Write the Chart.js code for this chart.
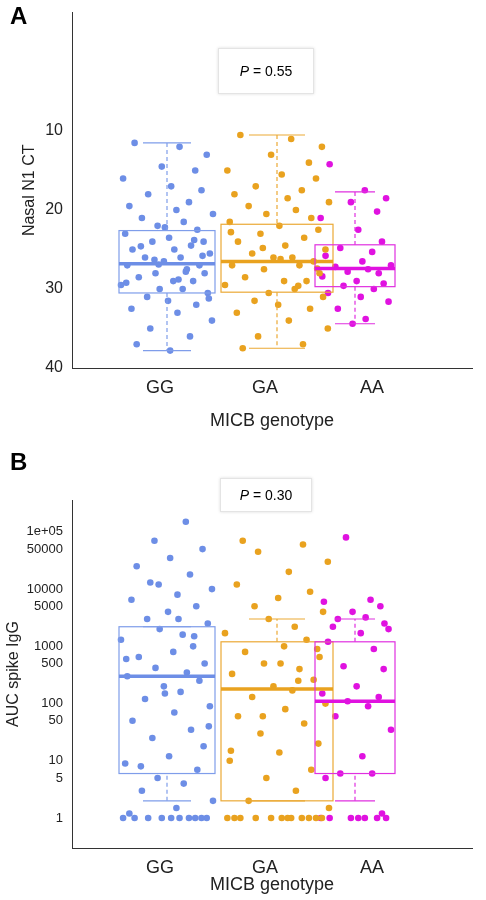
<!DOCTYPE html>
<html><head><meta charset="utf-8">
<script src="https://cdn.jsdelivr.net/npm/chart.js@4"></script>
<style>
body{margin:0;background:#fff;font-family:"Liberation Sans",Arial,sans-serif}
.wrap{position:absolute;left:0;width:486px;height:450px}
.lbl{position:absolute;font-weight:bold;font-size:24px;left:10px}
.pbox{position:absolute;background:#fff;border:1px solid #e4e4e4;box-shadow:0 0 3px #ddd;font-size:14px;text-align:center}
</style></head><body>
<div class="wrap" style="top:0"><canvas id="ca" width="486" height="450"></canvas></div>
<div class="wrap" style="top:450px"><canvas id="cb" width="486" height="450"></canvas></div>
<div class="lbl" style="top:2px">A</div>
<div class="lbl" style="top:448px">B</div>
<div class="pbox" style="left:218px;top:48px;width:94px;height:44px;line-height:44px"><i>P</i> = 0.55</div>
<div class="pbox" style="left:220px;top:478px;width:90px;height:32px;line-height:32px"><i>P</i> = 0.30</div>
<script>
const categories=["GG","GA","AA"];
const colors=["#6d8ee6","#e9a21f","#e012e0"];
const boxLine=["#7f9dea","#eba935","#e030e0"];
const catX=[95,205,283];
const labelX=[88,193,300];
const boxHalf=[48,56,40];
const jitHalf=[46,52,36];
const JIT=[-0.31,0.12,0.38,-0.05,0.27,-0.42,0.04,0.33,-0.18,0.21,-0.36,0.09,0.44,-0.24,0.16,-0.09,0.29,-0.4,0.02,0.35,-0.14,0.23,-0.33,0.07,0.41,-0.21,0.13,-0.03,0.31,-0.38,0.19,-0.11,0.36,-0.27,0.06,0.25,-0.44,0.15,-0.07,0.39,-0.19,0.01,0.28,-0.34,0.1,0.43,-0.16,0.22,-0.29,0.03,0.34,-0.12,0.18,-0.39,0.26,-0.02,0.4,-0.25,0.11,-0.08];
// Panel A: Nasal N1 CT
const ctGG=[11.5,12,13,14.5,15,16,17,17.5,18,19,19.5,20,20.5,21,21.5,22,22.5,23,23.5,24,24,24.5,25,25,25.5,26,26,26.5,27,27,27.5,28,28,28.5,29,29,29.5,30,30,30.5,31,31.5,32,32.5,33,34,35,36,37,37.8,25.8,26.3,27.8,29.2,23.8,22.2,31.2,24.6,28.8,26.9];
const ctGA=[10.5,11,12,13,14,15,15.5,16,17,17.5,18,18.5,19,19.5,20,20.5,21,21.5,22,22.5,23,23.5,24,24.5,25,25.5,26,26,26.5,27,27,27.5,28,28.5,29,29,29.5,30,30.5,31,31.5,32,32.5,33,34,35,36,37,37.5,26.2,27.4,24.8,29.6,22.8];
const ctAA=[14.2,17.5,18.5,19,20.2,21,22.5,24,24.8,25.3,25.8,26.5,27,27.2,27.5,27.8,28,28.4,29,29.3,29.6,30,30.5,31,31.6,32.5,33.8,34.4];
// [lowWhisker, Q1, median, Q3, highWhisker]
const ctBoxes=[[11.5,22.6,26.8,30.5,37.8],[10.5,21.8,26.5,30.4,37.5],[17.7,24.4,27.4,29.7,34.4]];
const ctTicks=[10,20,30,40];
// Panel B: AUC spike IgG
const igGG=[1,1,1,1,1,1,1,1,1,1,1.2,1.5,2,3,4,5,7,9,12,18,25,35,50,70,90,120,160,200,250,300,350,420,500,650,800,1000,1300,1600,2000,2500,3000,4000,5000,6500,8000,10000,13000,18000,25000,35000,50000,70000,150000,600,1500,150,40,8,3000,12000];
const igGA=[1,1,1,1,1,1,1,1,1,1,1,1,1.5,2,3,5,7,10,14,20,30,45,60,80,100,130,170,200,260,330,400,500,650,800,1000,1300,1700,2200,3000,4000,5000,7000,9000,12000,20000,30000,45000,60000,70000,500,900,60,250,15];
const igAA=[1,1,1,1,1,1,1,1.2,6,6,5,12,35,60,90,110,130,150,200,400,450,900,1200,1700,2000,3000,3200,4000,5000,6000,6500,80000,2500,2200];
const igBoxes=[[2,6,300,2200,2200],[2,2,180,1200,3000],[2,6,110,1200,3000]];
const igTicks=[1,5,10,50,100,500,1000,5000,10000,50000,100000];
const igLabels=["1","5","10","50","100","500","1000","5000","10000","50000","1e+05"];

function pts(vals,i){return vals.map((v,k)=>({x:catX[i]+JIT[k%JIT.length]*jitHalf[i]/0.44,y:v}));}
const boxPlugin={id:'boxes',afterDatasetsDraw(ch,a,opts){
  const c=ch.ctx,xs=ch.scales.x,ys=ch.scales.y;
  opts.boxes.forEach((b,i)=>{
    const l=xs.getPixelForValue(catX[i]-boxHalf[i]),r=xs.getPixelForValue(catX[i]+boxHalf[i]),cx=xs.getPixelForValue(catX[i]);
    const p=b.map(v=>ys.getPixelForValue(v));
    c.save();c.strokeStyle=boxLine[i];c.lineWidth=1.2;
    c.setLineDash([4,3]);c.beginPath();c.moveTo(cx,p[0]);c.lineTo(cx,p[1]);c.moveTo(cx,p[3]);c.lineTo(cx,p[4]);c.stroke();
    c.setLineDash([]);
    const wl=xs.getPixelForValue(catX[i]-boxHalf[i]/2),wr=xs.getPixelForValue(catX[i]+boxHalf[i]/2);
    c.beginPath();c.moveTo(wl,p[0]);c.lineTo(wr,p[0]);c.moveTo(wl,p[4]);c.lineTo(wr,p[4]);c.stroke();
    c.strokeRect(l,Math.min(p[1],p[3]),r-l,Math.abs(p[3]-p[1]));
    c.lineWidth=3.5;c.strokeStyle=colors[i];c.beginPath();c.moveTo(l,p[2]);c.lineTo(r,p[2]);c.stroke();
    c.restore();
  });
}};
function make(id,data,boxes,yopt,ytitle,pad,bottom,yw){
  return new Chart(document.getElementById(id),{type:'scatter',
    data:{datasets:data.map((d,i)=>({data:pts(d,i),backgroundColor:colors[i],borderWidth:0,pointRadius:3.3}))},
    options:{responsive:false,animation:false,layout:{padding:pad},
      plugins:{legend:{display:false},tooltip:{enabled:false},boxes:{boxes}},
      scales:{
        x:{type:'linear',min:0,max:400,afterBuildTicks:s=>{s.ticks=labelX.map(v=>({value:v}))},
          afterFit:s=>{s.height=bottom},
          ticks:{callback:(v)=>categories[labelX.indexOf(v)],font:{size:18},color:'#222',autoSkip:false,maxRotation:0},
          grid:{display:false,drawTicks:true,tickLength:6,color:'#333'},border:{color:'#333'},
          title:{display:true,text:'MICB genotype',font:{size:18},color:'#222',padding:{top:2}}},
        y:Object.assign({afterFit:s=>{s.width=yw},grid:{display:false,tickLength:6,color:'#333'},border:{color:'#333'},
          title:{display:true,text:ytitle,font:{size:16},color:'#222'}},yopt)
      }},plugins:[boxPlugin]});
}
make('ca',[ctGG,ctGA,ctAA],ctBoxes,{type:'linear',reverse:true,min:-5,max:40,
  afterBuildTicks:s=>{s.ticks=ctTicks.map(v=>({value:v}))},ticks:{font:{size:16},color:'#222'}},'Nasal N1 CT',
  {top:5,right:14,left:16,bottom:14},68,56);
make('cb',[igGG,igGA,igAA],igBoxes,{type:'logarithmic',min:0.34,max:360000,
  afterBuildTicks:s=>{s.ticks=igTicks.map(v=>({value:v}))},ticks:{font:{size:13},color:'#222',autoSkip:false,callback:v=>igLabels[igTicks.indexOf(v)]}},'AUC spike IgG',
  {top:50,right:14,left:0,bottom:0},52,72);
</script></body></html>
